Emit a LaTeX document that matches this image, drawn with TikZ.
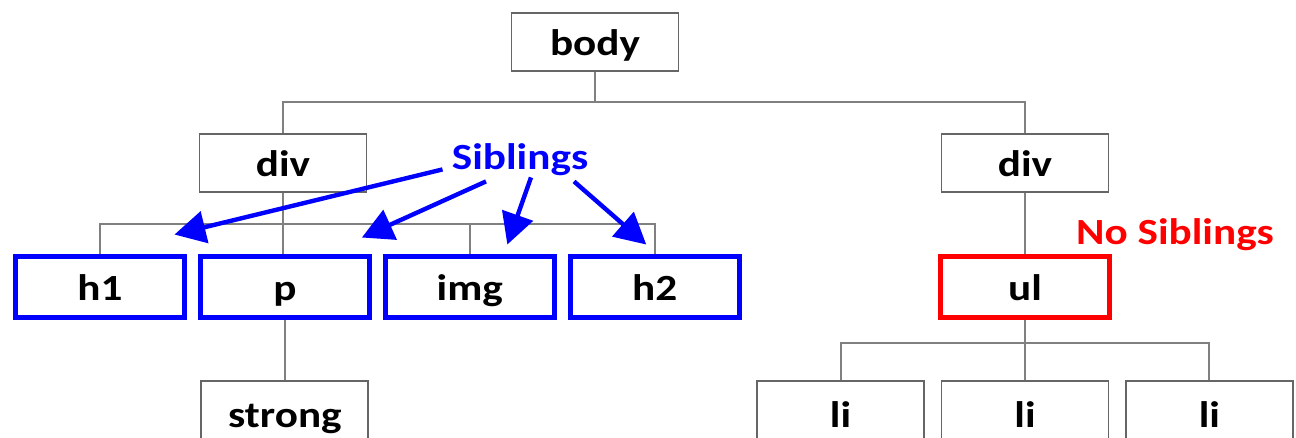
\documentclass[tikz,border=0pt]{standalone}
\usepackage{fontspec}
\setmainfont[FakeStretch=1.17]{Carlito}
\usetikzlibrary{arrows.meta,positioning,calc}

\begin{document}
\begin{tikzpicture}[
    font=\fontsize{21}{25}\selectfont\bfseries,
    >=Latex,
    tagbox/.style={
        rectangle, draw=black!60, line width=1.1pt,
        minimum width=3.34cm, minimum height=1.15cm, inner sep=0pt,
        text height=0.6cm, text depth=0.04cm
    },
    sibbox/.style={tagbox, draw=blue, line width=2.8pt, minimum width=3.38cm, minimum height=1.22cm},
    onlybox/.style={sibbox, draw=red},
    link/.style={draw=black!50, line width=1.1pt},
    sibarrow/.style={-{Triangle[length=0.62cm,width=0.64cm]}, draw=blue, line width=2.5pt},
]
  \useasboundingbox (0,0) rectangle (25.92,-8.76);

  %––– Root and first level –––––––––––––––––––––––––––––––––
  \node (body) [tagbox] at (11.9,-0.84) {body};
  \node (divl) [tagbox] at (5.66,-3.26) {div};
  \node (divr) [tagbox] at (20.5,-3.26) {div};

  %––– Children of the left div (siblings) –––––––––––––––––––
  \node (h1)  [sibbox] at (2.0,-5.74) {h1};
  \node (p)   [sibbox, right=0.22cm of h1] {p};
  \node (img) [sibbox, right=0.22cm of p] {img};
  \node (h2)  [sibbox, right=0.22cm of img] {h2};
  \node (strong) [tagbox, minimum height=1.3cm, below=1.2cm of p] {strong};

  %––– Right branch (only child) ––––––––––––––––––––––––––––––
  \node (ul)  [onlybox, below=1.22cm of divr] {ul};
  \node (li2) [tagbox, minimum height=1.3cm, below=1.2cm of ul] {li};
  \node (li1) [tagbox, minimum height=1.3cm, left=0.31cm of li2] {li};
  \node (li3) [tagbox, minimum height=1.3cm, right=0.31cm of li2] {li};

  %––– Labels ––––––––––––––––––––––––––––––––––––––––––––––––
  \node (sib)   [text=blue, inner sep=0pt] at (10.4,-3.2) {Siblings};
  \node (nosib) [text=red, inner sep=0pt] at (23.5,-4.7) {No Siblings};

  %––– Tree lines ––––––––––––––––––––––––––––––––––––––––––––
  \coordinate (bj) at ([yshift=-0.6cm]body.south);
  \draw[link] (body.south) -- (bj) -| (divl.north);
  \draw[link] (bj) -| (divr.north);

  \coordinate (dj) at ([yshift=-0.62cm]divl.south);
  \draw[link] (divl.south) -- (divl.south |- p.north);
  \draw[link] (dj) -| (h1.north);
  \draw[link] (dj) -| (img.north);
  \draw[link] (dj) -| (h2.north);
  \draw[link] (p.south) -- (p.south |- strong.north);

  \draw[link] (divr.south) -- (ul.north);
  \coordinate (uj) at ([yshift=-0.46cm]ul.south);
  \draw[link] (ul.south) -- (li2.north);
  \draw[link] (uj) -| (li1.north);
  \draw[link] (uj) -| (li3.north);

  %––– Sibling arrows ––––––––––––––––––––––––––––––––––––––––
  \draw[sibarrow] ([shift={(-0.18,0.14)}]sib.south west) -- ([shift={(-0.25,0.39)}]h1.north east);
  \draw[sibarrow] ([shift={(-0.68,-0.1)}]sib.south) -- ([shift={(-0.2,0.33)}]p.north east);
  \draw[sibarrow] ([shift={(0.22,-0.02)}]sib.south) -- ([shift={(0.75,0.19)}]img.north);
  \draw[sibarrow] ([shift={(1.08,-0.1)}]sib.south) -- ([shift={(-0.17,0.19)}]h2.north);
\end{tikzpicture}
\end{document}
